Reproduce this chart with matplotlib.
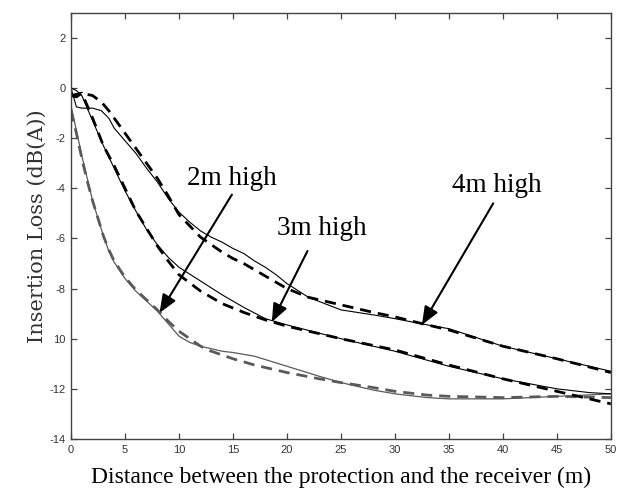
import matplotlib
matplotlib.use("Agg")
import matplotlib.pyplot as plt

# distance from the protection (m)
d2 = [0, 0.5, 1, 1.5, 2, 2.5, 3, 3.5, 4, 5, 6, 7, 8, 9, 10, 11, 12, 13, 14, 15,
      17, 20, 23, 25, 28, 30, 33, 35, 40, 45, 50]
il2_solid = [-0.7, -1.7, -2.7, -3.6, -4.5, -5.2, -5.9, -6.5, -6.95, -7.6, -8.1, -8.5,
             -8.9, -9.4, -9.9, -10.15, -10.3, -10.4, -10.5, -10.55, -10.7, -11.1,
             -11.5, -11.75, -12.05, -12.2, -12.35, -12.4, -12.4, -12.3, -12.2]
il2_dash = [-0.9, -1.8, -2.8, -3.7, -4.5, -5.2, -5.9, -6.45, -6.9, -7.55, -8.05, -8.45,
            -8.85, -9.3, -9.7, -10.0, -10.3, -10.5, -10.65, -10.8, -11.05, -11.35,
            -11.6, -11.75, -11.95, -12.1, -12.25, -12.3, -12.35, -12.3, -12.35]

d3 = [0, 0.5, 1, 2, 3, 4, 5, 6, 7, 8, 9, 10, 12, 14, 16, 18, 20, 25, 30, 35, 40,
      45, 48, 50]
il3_solid = [0.0, -0.1, -0.3, -1.3, -2.3, -3.2, -4.1, -4.9, -5.65, -6.25, -6.75,
             -7.15, -7.7, -8.25, -8.75, -9.2, -9.45, -10.0, -10.5, -11.1, -11.6,
             -12.0, -12.15, -12.2]
il3_dash = [-0.3, -0.25, -0.2, -1.2, -2.3, -3.1, -4.0, -4.9, -5.6, -6.3, -6.9,
            -7.45, -8.1, -8.6, -8.95, -9.25, -9.5, -10.0, -10.45, -11.05, -11.6,
            -12.1, -12.4, -12.6]

d4 = [0, 0.5, 1, 2, 2.8, 3.5, 4, 5, 6, 7, 8, 9, 10, 11, 12, 13, 14, 15, 16, 17,
      18, 19, 20, 22, 25, 28, 30, 33, 35, 40, 45, 50]
il4_solid = [0.0, -0.75, -0.8, -0.8, -0.9, -1.2, -1.6, -2.1, -2.6, -3.2, -3.75,
             -4.4, -4.95, -5.35, -5.7, -5.95, -6.15, -6.4, -6.6, -6.9, -7.15, -7.45,
             -7.8, -8.35, -8.85, -9.05, -9.2, -9.45, -9.6, -10.3, -10.8, -11.3]
il4_dash = [-0.3, -0.35, -0.2, -0.3, -0.55, -0.9, -1.2, -1.8, -2.4, -3.0, -3.6,
            -4.3, -5.05, -5.5, -5.95, -6.25, -6.55, -6.8, -7.0, -7.25, -7.5, -7.75,
            -8.0, -8.35, -8.65, -8.95, -9.13, -9.45, -9.65, -10.3, -10.8, -11.35]

xticks = [0, 5, 10, 15, 20, 25, 30, 35, 40, 45, 50]
yticks = [2, 0, -2, -4, -6, -8, -10, -12, -14]
ytick_labels = ["2", "0", "-2", "-4", "-6", "-8", "10", "-12", "-14"]

# label text, text position, arrow tip
notes = [
    ("2m high", (14.9, -4.1), (8.2, -8.97)),
    ("3m high", (23.2, -6.1), (18.6, -9.33)),
    ("4m high", (39.4, -4.4), (32.5, -9.45)),
]
arrow_tails = [(14.9, -4.25), (21.9, -6.5), (39.1, -4.6)]

fig = plt.figure(figsize=(6.24, 4.96), dpi=100)
ax = fig.add_axes([0.1138, 0.115, 0.8652, 0.859])

gray = "#5a5a5a"
ax.plot(d2, il2_solid, color=gray, lw=0.9)
ax.plot(d2, il2_dash, color=gray, lw=2.0, dashes=(4, 2.5))
ax.plot(d3, il3_solid, color="black", lw=0.8)
ax.plot(d3, il3_dash, color="black", lw=2.0, dashes=(4, 2.5))
ax.plot(d4, il4_solid, color="black", lw=0.8)
ax.plot(d4, il4_dash, color="black", lw=2.0, dashes=(4, 2.5))

for (txt, tpos, tip), tail in zip(notes, arrow_tails):
    ax.annotate("", xy=tip, xytext=tail,
                arrowprops=dict(arrowstyle="-|>,head_length=1.1,head_width=0.45",
                                color="black", lw=1.5, shrinkA=0, shrinkB=0))
    ax.text(tpos[0], tpos[1], txt, ha="center", va="bottom",
            family="Liberation Serif", fontsize=19.5)

ax.set_xlim(0, 50)
ax.set_ylim(-14, 3)
ax.set_xticks(xticks)
ax.set_yticks(yticks)
ax.set_yticklabels(ytick_labels)
ax.tick_params(direction="in", length=4, width=0.9, top=True, right=True,
               labelsize=8, colors="#444444", labelcolor="#333333", pad=4)
for lab in ax.get_xticklabels() + ax.get_yticklabels():
    lab.set_family("Liberation Sans")
for s in ax.spines.values():
    s.set_color("#444444")
    s.set_linewidth(1.0)

ax.set_xlabel("Distance between the protection and the receiver (m)",
              family="Liberation Serif", fontsize=17, labelpad=9)
ax.set_ylabel("Insertion Loss (dB(A))", family="DejaVu Serif", fontsize=15,
              color="#333333", labelpad=2)

fig.savefig("out.png", dpi=100)
